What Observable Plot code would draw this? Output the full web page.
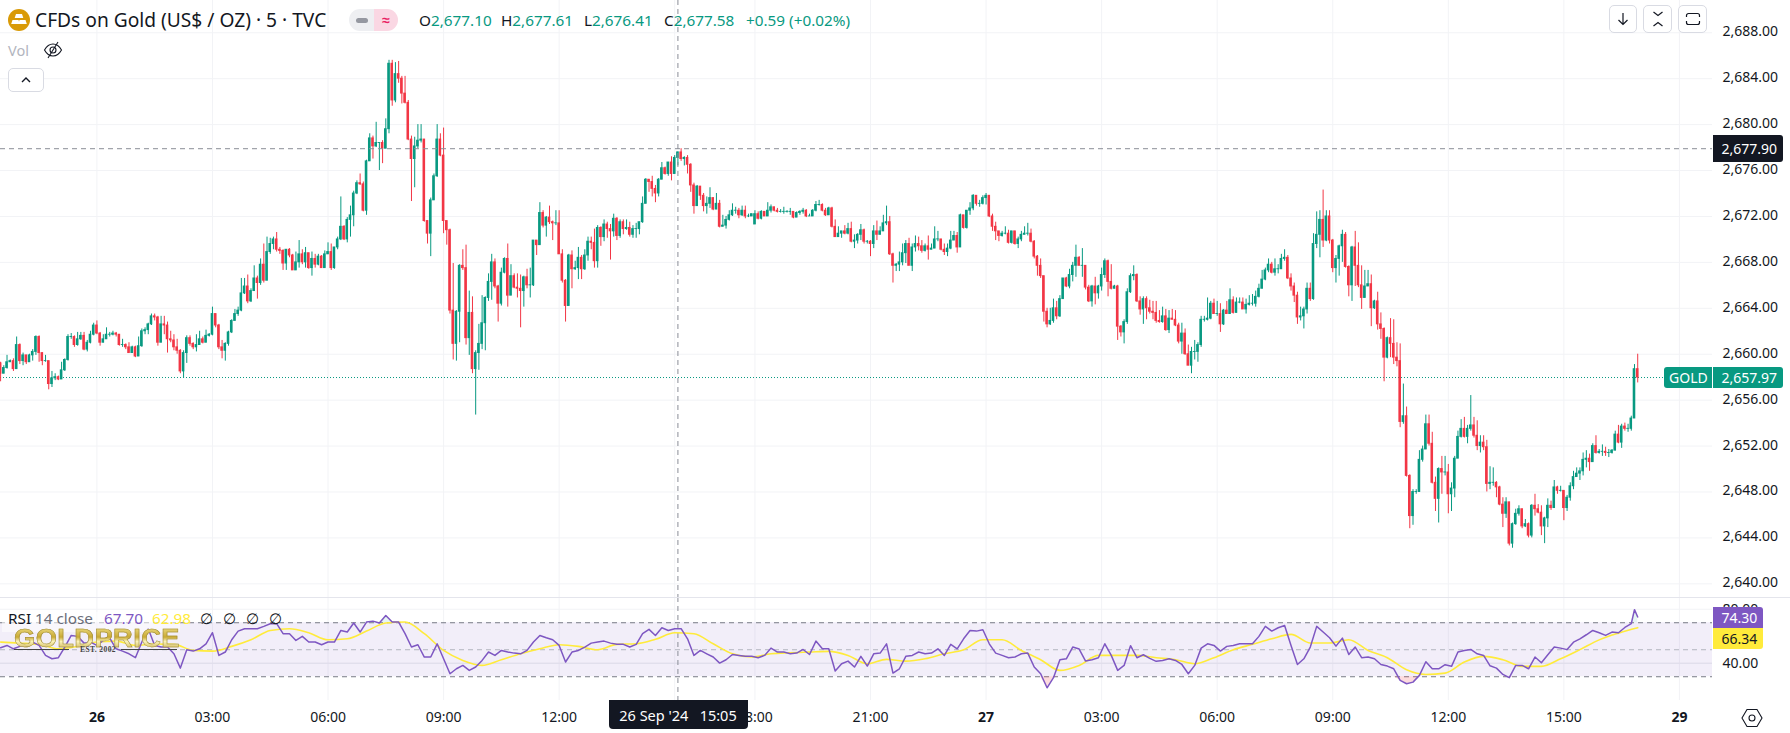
<!DOCTYPE html>
<html><head><meta charset="utf-8">
<script src="https://cdn.jsdelivr.net/npm/d3@7"></script>
<script src="https://cdn.jsdelivr.net/npm/@observablehq/plot@0.6"></script>
<style>
html,body{margin:0;padding:0;background:#fff;width:1790px;height:733px;overflow:hidden}
#root{position:relative;width:1790px;height:733px;font-family:"Noto Sans",sans-serif;color:#131722}
#root svg{display:block}
.ov{position:absolute;white-space:nowrap;line-height:1}
.tag{position:absolute;display:flex;align-items:center;box-sizing:border-box;font-size:14px;white-space:nowrap}
.btn{position:absolute;box-sizing:border-box;border:1px solid #d9dbe3;border-radius:5px;background:#fff;display:flex;align-items:center;justify-content:center}
</style></head><body><div id="root"></div>
<script>
// 5-minute bars, counted from 26 Sep 00:00 (first bar shown is -30)
const firstBar = -30;
const closes = [
2658.3,2658.8,2659.3,2659.4,2658.7,2660.8,2659.4,2659.9,2659.3,2659.9,2660.2,2661.5,2660.1,2659.4,2659.4,2657.4,2657.9,2658.0,2657.8,2658.6,
2659.5,2661.5,2661.5,2660.8,2661.3,2661.6,2660.4,2661.0,2661.7,2662.5,2661.8,2661.0,2661.3,2661.7,2661.7,2661.8,2661.7,2660.8,2660.8,2660.6,
2660.1,2660.6,2659.8,2660.7,2662.0,2662.1,2662.6,2663.3,2663.2,2661.0,2662.6,2662.5,2661.3,2661.2,2660.6,2660.3,2658.5,2660.1,2661.4,2660.9,
2660.6,2660.8,2661.3,2661.0,2661.6,2661.7,2663.5,2662.5,2660.6,2660.3,2660.9,2661.9,2662.9,2663.5,2663.8,2665.3,2665.9,2664.6,2665.5,2666.6,
2666.2,2667.8,2666.4,2668.9,2669.6,2670.0,2669.1,2669.0,2667.9,2669.1,2668.6,2667.3,2668.0,2668.7,2668.0,2668.8,2667.5,2668.3,2667.8,2668.5,
2667.5,2668.7,2668.9,2667.5,2669.3,2670.0,2671.1,2670.0,2671.7,2672.1,2674.0,2674.9,2674.8,2672.5,2676.8,2678.8,2678.1,2678.4,2678.4,2677.9,
2679.6,2685.3,2682.1,2684.4,2684.0,2682.7,2681.9,2678.7,2677.0,2678.1,2678.6,2678.7,2671.6,2670.5,2673.4,2675.5,2678.7,2677.3,2671.6,2670.8,
2663.8,2660.9,2663.7,2667.7,2667.5,2661.4,2663.6,2658.7,2660.1,2660.9,2662.7,2664.9,2666.3,2668.0,2665.9,2664.4,2667.1,2668.3,2665.1,2666.8,
2665.8,2665.7,2665.5,2666.7,2666.0,2666.0,2669.9,2669.5,2672.3,2671.2,2671.9,2671.5,2671.4,2671.4,2668.7,2666.4,2664.2,2668.6,2667.4,2667.5,
2668.4,2667.4,2668.6,2669.8,2669.7,2668.1,2671.0,
2670.2,2671.3,2670.9,2670.7,2671.8,2670.3,2671.5,2670.9,2671.0,2670.4,2670.9,2670.9,2671.5,2673.1,2675.2,2675.0,2674.4,2674.0,2675.2,2676.2,
2675.7,2676.7,2675.7,2677.1,2677.58,2677.0,2677.1,2676.5,2674.7,2672.9,2674.6,2673.8,2672.9,2673.1,2673.6,2672.6,2673.1,2671.1,2671.2,2671.7,
2672.1,2672.5,2672.5,2672.1,2672.5,2672.0,2672.0,2672.2,2672.2,2671.8,2672.4,2672.0,2672.5,2672.8,2672.5,2672.4,2672.4,2672.4,2672.4,2672.4,
2671.9,2672.3,2672.4,2672.5,2672.0,2672.0,2672.5,2673.0,2673.0,2672.5,2672.1,2672.7,2671.1,2670.2,2670.5,2670.7,2670.5,2670.9,2669.8,2669.9,
2670.4,2670.8,2669.8,2669.8,2669.6,2670.7,2670.4,2670.7,2671.4,2671.5,2668.7,2667.7,2667.8,2668.0,2668.8,2669.6,2667.7,2669.3,2669.6,2669.4,
2669.0,2669.4,2669.1,2669.2,2670.0,2670.0,2669.1,2668.9,2669.2,2669.9,2670.3,2669.3,2672.1,2671.0,2672.5,2672.7,2673.8,2673.1,2673.1,2673.6,
2673.8,2672.0,2671.1,2670.7,2670.3,2670.5,2670.5,2669.7,2670.7,2669.6,2670.0,2670.4,2670.5,2670.5,2669.8,2668.5,2667.7,2666.8,2663.7,2662.6,
2662.9,2664.0,2663.3,2664.8,2666.6,2665.9,2666.9,2667.7,2668.4,2667.7,2667.7,2665.8,2664.6,2665.9,2665.3,2665.9,2666.9,2668.1,2666.3,2665.7,
2665.9,2662.4,2661.9,2662.8,2665.4,2666.8,2666.9,2664.6,2663.9,2664.8,2664.0,2663.7,2663.6,2662.9,2662.8,2663.3,2662.1,2663.1,2663.0,2662.5,
2661.1,2661.8,2660.0,2659.0,2660.2,2660.2,2660.8,
2663.0,2663.0,2663.1,2664.4,2663.5,2663.5,2662.6,2663.8,2663.5,2664.7,2663.6,2664.5,2664.5,2663.9,2664.3,2664.4,2664.4,2665.0,2665.7,2666.5,
2667.3,2667.8,2667.1,2667.4,2667.4,2668.3,2668.4,2666.6,2665.9,2665.1,2663.2,2663.3,2663.9,2665.7,2664.8,2669.6,2670.4,2671.7,2669.9,2672.0,
2669.9,2667.5,2668.3,2669.4,2670.4,2667.6,2666.0,2669.3,2667.7,2666.0,2664.9,2665.9,2666.1,2664.0,2664.6,2662.6,2662.2,2659.7,2661.4,2660.9,
2659.7,2659.4,2654.1,2654.6,2649.4,2645.9,2648.0,2648.0,2650.8,2651.7,2653.9,2652.2,2648.8,2647.4,2650.0,2649.7,2649.7,2647.8,2648.3,2650.9,
2652.8,2653.5,2652.8,2653.5,2653.8,2652.9,2652.0,2652.3,2651.9,2648.7,2648.8,2648.8,2648.4,2646.9,2646.1,2647.1,2643.5,2645.2,2646.1,2646.5,
2645.0,2645.2,2644.2,2646.8,2646.5,2646.2,2645.0,2645.7,2646.8,2646.6,2648.4,2648.1,2648.1,2646.6,2647.5,2648.5,2649.3,2649.6,2649.8,2650.8,
2650.9,2650.6,2652.0,2651.4,2651.5,2651.5,2651.4,2651.4,2651.6,2653.0,2652.3,2653.7,2653.5,2653.5,2654.4,2658.7,2657.97];
const highs = [
2659.3,2659.0,2659.9,2659.5,2659.6,2661.5,2660.9,2660.1,2659.7,2660.0,2660.4,2661.6,2661.6,2660.0,2659.9,2659.4,2658.5,2658.3,2658.1,2659.3,
2659.6,2661.7,2661.8,2661.6,2661.9,2661.9,2661.9,2661.2,2662.0,2662.7,2662.9,2661.9,2661.7,2662.3,2661.9,2662.0,2661.9,2661.7,2661.3,2660.9,
2661.0,2660.7,2660.7,2661.5,2662.2,2662.3,2662.7,2663.5,2663.5,2663.3,2663.3,2663.3,2662.8,2662.0,2661.7,2661.3,2660.4,2660.3,2661.6,2661.6,
2661.0,2661.7,2662.0,2661.5,2662.1,2661.8,2664.1,2663.5,2662.6,2661.2,2661.0,2662.0,2663.0,2663.9,2664.1,2666.6,2666.6,2666.9,2665.7,2667.7,
2666.8,2668.3,2669.6,2670.2,2670.1,2670.2,2670.6,2669.3,2669.1,2669.1,2669.2,2668.7,2668.9,2669.9,2669.1,2669.3,2668.7,2668.9,2668.7,2668.7,
2668.6,2669.0,2669.7,2669.6,2669.3,2670.2,2673.7,2671.2,2671.9,2672.9,2674.2,2675.1,2675.7,2675.0,2676.9,2679.2,2679.0,2680.2,2678.4,2678.6,
2680.5,2685.6,2685.6,2685.4,2685.5,2684.2,2684.2,2682.1,2679.0,2678.9,2680.0,2680.0,2678.6,2671.6,2673.6,2675.7,2680.0,2679.2,2679.7,2671.5,
2670.9,2667.9,2663.8,2667.8,2669.1,2669.5,2665.5,2665.0,2660.3,2662.6,2665.1,2665.0,2667.0,2668.7,2668.3,2666.0,2667.5,2668.4,2669.6,2667.8,
2667.0,2667.0,2666.9,2666.8,2667.4,2667.5,2669.9,2669.9,2673.2,2672.5,2672.0,2672.9,2671.6,2672.5,2672.5,2669.1,2666.5,2668.7,2669.0,2668.1,
2669.3,2668.6,2669.1,2670.2,2670.2,2670.9,2671.2,
2671.1,2671.7,2671.5,2671.3,2672.2,2671.9,2671.7,2671.7,2671.7,2671.5,2671.2,2671.4,2671.5,2673.7,2675.3,2675.2,2675.5,2674.7,2675.3,2676.7,
2676.3,2676.7,2677.2,2677.3,2677.61,2677.9,2677.2,2677.3,2676.6,2674.9,2674.7,2674.5,2674.0,2673.7,2674.5,2673.6,2674.0,2673.4,2672.1,2672.0,
2672.5,2673.1,2672.8,2672.7,2672.9,2672.9,2672.2,2672.2,2672.5,2672.4,2672.5,2672.3,2673.2,2673.0,2672.8,2672.7,2672.6,2672.8,2672.5,2672.7,
2672.4,2672.4,2672.5,2672.7,2672.6,2672.2,2672.6,2673.3,2673.4,2673.1,2672.7,2672.8,2672.8,2671.7,2671.1,2670.7,2671.2,2671.4,2671.5,2670.4,
2670.5,2671.3,2670.9,2669.9,2669.9,2671.2,2671.6,2671.1,2672.1,2672.9,2672.0,2668.8,2667.9,2668.9,2669.6,2669.9,2670.1,2669.6,2670.3,2670.2,
2669.9,2669.6,2670.3,2669.6,2671.1,2670.7,2670.0,2669.6,2669.6,2670.7,2670.7,2670.6,2672.2,2672.1,2672.5,2673.2,2673.9,2673.8,2673.4,2673.8,
2674.0,2673.6,2672.2,2671.5,2670.7,2670.7,2671.1,2670.8,2670.7,2670.7,2670.2,2670.7,2671.1,2671.4,2670.9,2669.9,2668.6,2668.3,2666.7,2664.0,
2664.0,2664.8,2664.6,2665.1,2666.6,2666.7,2667.4,2668.0,2669.5,2668.5,2669.2,2667.6,2666.0,2666.0,2666.7,2666.0,2667.5,2668.3,2668.2,2667.8,
2666.0,2666.0,2662.5,2663.0,2665.7,2667.0,2667.7,2667.0,2665.0,2665.0,2665.0,2664.7,2664.6,2664.6,2663.8,2664.1,2663.9,2663.8,2663.9,2663.8,
2662.7,2662.7,2662.2,2660.8,2660.6,2661.2,2661.0,
2663.3,2663.3,2664.9,2664.6,2664.8,2664.6,2664.4,2663.9,2664.6,2665.7,2665.0,2664.9,2664.9,2664.9,2664.8,2665.1,2665.2,2665.5,2666.1,2667.3,
2667.5,2668.3,2668.0,2668.3,2667.8,2668.7,2669.1,2668.6,2667.0,2666.2,2665.4,2664.1,2664.1,2666.2,2666.2,2670.5,2672.4,2672.5,2674.3,2672.5,
2672.5,2670.0,2668.6,2669.5,2670.8,2670.6,2667.7,2669.4,2670.7,2669.7,2667.7,2667.3,2667.3,2666.9,2664.7,2665.4,2663.6,2662.3,2661.5,2663.1,
2663.0,2661.0,2660.9,2657.4,2655.4,2649.5,2648.2,2648.2,2651.6,2652.0,2654.7,2654.7,2653.2,2649.3,2650.1,2651.1,2651.1,2650.4,2648.8,2651.1,
2653.3,2654.3,2654.5,2653.8,2656.4,2654.5,2654.2,2652.9,2652.9,2652.5,2650.2,2650.1,2648.9,2648.5,2647.5,2647.5,2647.1,2645.3,2646.5,2646.8,
2646.5,2645.6,2645.3,2646.9,2647.8,2646.9,2646.8,2645.8,2647.4,2647.2,2649.0,2648.5,2648.5,2648.1,2647.7,2648.8,2649.8,2650.1,2650.1,2651.4,
2651.6,2651.3,2652.2,2652.9,2651.7,2652.1,2651.9,2651.7,2651.7,2653.3,2653.8,2653.9,2654.0,2653.9,2654.6,2659.1,2660.0];
const lows = [
2657.6,2658.5,2658.7,2659.3,2658.5,2658.7,2659.1,2659.0,2659.1,2659.3,2659.4,2659.9,2659.3,2659.0,2659.3,2656.9,2657.1,2657.7,2657.7,2657.8,
2658.5,2659.4,2661.3,2660.6,2660.7,2661.2,2660.3,2660.2,2660.9,2661.6,2661.7,2660.7,2661.0,2661.3,2661.5,2661.6,2661.5,2660.7,2660.6,2660.4,
2660.1,2660.1,2659.7,2659.9,2660.6,2661.7,2661.7,2662.5,2662.9,2660.7,2661.0,2661.7,2660.1,2661.0,2660.3,2660.0,2658.3,2657.9,2659.2,2660.7,
2660.4,2660.2,2661.0,2660.9,2661.0,2661.5,2661.6,2662.3,2660.4,2659.6,2659.4,2660.7,2661.8,2663.0,2663.3,2663.7,2665.2,2664.4,2664.5,2665.5,
2664.8,2666.0,2666.2,2666.4,2668.7,2669.1,2668.9,2668.7,2667.3,2667.3,2668.4,2667.3,2667.3,2667.5,2667.8,2667.5,2667.4,2666.8,2667.5,2667.7,
2667.5,2667.5,2668.7,2667.3,2667.4,2669.1,2669.9,2669.9,2669.7,2670.2,2671.1,2673.9,2674.7,2672.4,2672.1,2676.8,2677.0,2678.0,2676.0,2676.6,
2677.9,2679.2,2681.6,2681.9,2683.6,2681.8,2681.8,2678.6,2673.3,2674.5,2677.9,2678.4,2671.5,2669.6,2668.5,2673.4,2675.4,2677.2,2670.5,2669.5,
2663.5,2659.5,2659.4,2661.0,2667.3,2660.8,2659.9,2658.3,2654.7,2658.6,2660.4,2660.3,2664.6,2664.7,2665.7,2662.8,2664.2,2667.0,2664.1,2665.1,
2665.7,2664.9,2662.3,2664.1,2665.7,2664.9,2665.9,2668.6,2669.5,2671.0,2670.2,2671.3,2669.9,2671.2,2668.7,2666.2,2662.8,2664.2,2665.7,2667.3,
2666.5,2666.5,2667.3,2668.1,2669.1,2667.5,2667.5,
2669.4,2669.8,2670.1,2668.2,2670.2,2669.9,2670.1,2670.4,2670.8,2670.2,2670.1,2670.1,2670.4,2671.4,2673.1,2674.1,2673.7,2673.2,2673.7,2675.2,
2675.6,2675.5,2675.1,2675.7,2676.41,2676.8,2676.4,2675.7,2674.1,2672.2,2672.9,2673.4,2672.4,2672.2,2672.7,2672.5,2672.6,2671.0,2671.1,2670.9,
2671.6,2672.0,2672.2,2671.8,2672.0,2671.8,2671.9,2672.1,2671.3,2671.7,2671.7,2672.0,2672.0,2672.3,2672.4,2672.3,2672.3,2672.2,2672.3,2672.1,
2671.8,2671.9,2672.1,2672.2,2671.9,2672.0,2672.1,2672.4,2672.9,2672.4,2672.0,2672.1,2671.0,2670.2,2670.4,2670.1,2670.4,2670.4,2669.7,2669.2,
2669.6,2669.9,2669.6,2669.6,2668.5,2669.2,2669.9,2670.4,2670.7,2671.2,2668.6,2666.2,2667.2,2667.2,2667.7,2667.9,2667.7,2667.2,2668.9,2669.0,
2668.8,2668.9,2668.2,2669.1,2669.2,2669.8,2669.0,2668.6,2668.5,2669.1,2669.9,2668.8,2669.5,2670.9,2670.9,2672.1,2672.5,2672.9,2672.8,2673.0,
2673.0,2671.9,2670.7,2669.9,2669.8,2670.2,2670.4,2669.6,2669.6,2669.5,2669.2,2669.8,2670.4,2670.3,2669.7,2668.3,2666.8,2666.6,2662.8,2662.3,
2662.5,2662.7,2663.0,2663.2,2664.8,2665.8,2665.7,2666.3,2666.7,2667.7,2666.7,2665.6,2664.5,2664.1,2664.3,2664.8,2665.5,2666.6,2665.0,2665.6,
2665.7,2661.2,2661.5,2660.9,2662.6,2665.3,2666.4,2664.5,2663.4,2662.6,2663.0,2663.5,2663.0,2662.7,2662.7,2662.7,2662.0,2661.8,2663.0,2662.4,
2660.9,2660.0,2659.9,2659.0,2658.3,2659.5,2659.3,
2660.6,2662.8,2662.9,2663.0,2663.5,2663.3,2661.9,2662.5,2663.5,2663.5,2663.5,2663.7,2664.4,2663.9,2663.5,2664.2,2664.2,2664.1,2664.9,2665.7,
2666.4,2667.1,2667.0,2666.8,2667.0,2667.5,2668.1,2666.5,2665.5,2664.5,2662.6,2662.9,2662.2,2663.5,2664.6,2664.7,2669.2,2668.4,2669.3,2669.8,
2669.6,2667.1,2666.2,2666.8,2668.0,2667.5,2665.0,2664.6,2665.9,2665.8,2663.9,2665.0,2665.9,2662.4,2663.9,2662.1,2661.3,2657.6,2659.6,2659.7,
2659.1,2658.9,2653.6,2653.9,2649.3,2644.8,2645.1,2647.8,2648.1,2650.6,2651.7,2652.0,2648.7,2646.3,2645.3,2647.8,2649.4,2646.1,2646.3,2647.5,
2650.9,2652.7,2652.7,2652.2,2653.3,2652.7,2651.6,2651.4,2651.6,2648.0,2648.2,2648.5,2647.5,2646.8,2644.9,2645.7,2643.3,2643.1,2645.1,2645.9,
2644.8,2644.9,2644.0,2644.0,2645.9,2646.1,2644.2,2643.5,2644.9,2646.4,2646.6,2647.8,2648.0,2645.5,2646.3,2647.2,2648.2,2649.3,2649.0,2649.4,
2650.1,2649.8,2650.6,2651.3,2651.3,2651.1,2651.1,2651.0,2651.3,2651.6,2652.2,2651.8,2653.3,2653.2,2653.3,2654.5,2657.5];
const openOverrides = [[-30,2659.2],[181,2677.10],[205,2671.3]];

// RSI(14): one reading every second bar, from bar -30 to bar 478, then the last two bars
const rsi = [
51.5,53.2,50.7,52.5,52.5,55.7,53.2,45.8,43.3,44.1,52.0,60.6,59.9,54.9,55.7,53.2,56.9,58.6,50.7,49.0,47.0,44.1,55.7,65.6,53.2,52.0,52.0,47.0,36.4,50.0,
49.0,50.7,54.4,62.6,45.8,48.3,57.4,63.8,65.6,65.6,65.6,67.3,69.3,69.3,61.9,61.9,56.9,59.9,55.7,55.7,53.7,55.7,55.7,64.3,63.1,69.8,63.1,70.5,71.2,69.8,
75.4,70.5,70.5,61.9,52.0,53.7,44.6,44.6,54.4,43.3,32.2,35.9,38.4,34.7,37.2,42.1,48.3,45.8,49.5,48.3,47.5,47.0,
49.5,55.7,60.6,58.9,57.4,53.2,40.9,48.3,49.5,52.0,54.9,55.7,56.4,54.9,54.0,54.0,52.0,54.0,61.9,65.1,60.6,66.3,64.3,65.6,65.6,58.1,45.8,49.5,47.0,44.6,
40.1,42.6,46.5,45.8,45.1,45.1,44.1,45.8,51.2,48.3,48.3,47.0,47.5,50.2,46.5,56.4,50.7,50.7,34.2,39.6,41.6,37.2,45.1,37.9,47.0,47.5,54.4,32.7,35.9,45.1,
45.8,48.3,47.0,47.5,50.7,45.8,54.0,50.7,58.1,64.3,63.8,64.8,54.4,47.5,45.8,44.1,44.6,47.0,47.5,37.2,32.2,
21.8,29.3,42.6,43.3,52.0,50.5,41.6,42.6,44.1,54.4,45.8,34.7,38.4,53.0,44.1,46.3,43.6,41.4,42.1,43.3,42.1,39.1,32.2,38.4,51.2,54.4,53.2,49.0,52.5,53.2,
54.4,54.4,54.4,59.9,67.3,63.8,66.3,68.0,53.2,39.1,43.3,52.0,67.3,63.1,58.9,52.7,58.6,46.5,52.0,44.1,44.6,43.3,39.1,37.9,35.9,27.3,24.8,26.0,31.0,41.1,
35.9,35.9,38.9,37.7,48.3,49.5,50.2,47.0,45.8,38.1,36.4,31.7,29.3,38.4,38.4,35.9,44.6,40.4,46.3,52.0,51.2,
50.1,55.6,58.1,61.1,64.3,62.6,60.6,63.1,62.6,66.5,69.3];
const rsiEndBars = [479,480];
const rsiEndValues = [79.7,74.30];
// Smoothed RSI: one reading every sixth bar, from bar -30 to bar 480
const rsiMA = [
55.7,54.9,54.0,50.7,52.5,55.7,56.4,53.2,54.2,54.0,49.5,49.0,52.5,57.4,64.3,65.6,62.6,57.4,58.1,63.8,69.8,70.5,61.9,49.5,42.1,38.4,42.6,47.0,
50.7,53.7,52.5,50.0,54.0,54.4,57.7,62.6,61.9,54.4,47.0,44.6,47.0,47.8,48.3,48.8,45.8,39.6,42.9,41.6,43.3,47.0,50.0,57.4,57.4,49.5,42.6,
34.7,38.4,45.8,45.8,45.8,44.1,42.6,39.6,44.1,50.0,54.0,58.1,61.4,55.0,55.0,57.4,49.5,44.1,35.2,31.7,32.7,40.9,45.1,42.6,37.7,37.7,43.3,
50.1,57.3,62.3,66.34];

const timeBars = [0,36,72,108,144,180,205,241,277,313,349,385,421,457,493];
const timeLabels = ["26","03:00","06:00","09:00","12:00","15:00","18:00","21:00","27","03:00","06:00","09:00","12:00","15:00","29"];
const dayLabels = ["26","27","29"];
const priceTicks = d3.range(2640,2689,4);
const rsiTicks = [40,80];
const crossBar = 181;
const crossPrice = 2677.90;
const lastPrice = 2657.97;
const rsiLast = 74.30, maLast = 66.34;

const UP="#089981", DOWN="#f23645", GRID="#f2f3f6", FONT='"Noto Sans",sans-serif';
const opens = closes.map((c,i)=> i? closes[i-1] : c);
openOverrides.forEach(([b,v])=>{opens[b-firstBar]=v;});
const bars = closes.map((c,i)=>{
  const o=opens[i];
  return {b:firstBar+i,o,c,h:Math.max(highs[i],o,c),l:Math.min(lows[i],o,c),up:c>=o};
});
const rsiPts = rsi.map((v,i)=>({b:firstBar+2*i,v})).concat(rsiEndBars.map((b,i)=>({b,v:rsiEndValues[i]})));
const maPts = rsiMA.map((v,i)=>({b:firstBar+6*i,v}));
const xDomain=[-30.03,503.3], PANE_W=1712;
const fmt=d3.format(",.2f");
const bodyW=0.4, pad=0.04;
const up=bars.filter(d=>d.up), down=bars.filter(d=>!d.up);
const body=(data,fill)=>Plot.rect(data,{x1:d=>d.b-bodyW,x2:d=>d.b+bodyW,y1:d=>Math.min(d.o,d.c)-pad,y2:d=>Math.max(d.o,d.c)+pad,fill});
const wick=(data,stroke)=>Plot.ruleX(data,{x:"b",y1:"l",y2:"h",stroke,strokeWidth:1});
const dash={stroke:"#8a8d96",strokeWidth:1,strokeDasharray:"5 4"};

const top_=Plot.plot({
  width:1790,height:597,marginLeft:0,marginRight:1790-PANE_W,marginTop:0,marginBottom:0,
  style:{fontFamily:FONT,fontSize:"14px",color:"#131722",background:"transparent"},
  x:{domain:xDomain,range:[0,PANE_W],axis:null},
  y:{domain:[2638.81,2690.81],range:[597,0],axis:null},
  marks:[
    Plot.ruleX(timeBars,{stroke:GRID,strokeWidth:1}),
    Plot.ruleY(priceTicks,{stroke:GRID,strokeWidth:1}),
    Plot.axisY({ticks:priceTicks,anchor:"right",tickSize:0,tickPadding:10,tickFormat:fmt,label:null,fill:"#131722",fontSize:14,dy:-1}),
    Plot.ruleY([lastPrice],{stroke:UP,strokeWidth:1,strokeDasharray:"1 2"}),
    wick(up,UP),wick(down,DOWN),body(up,UP),body(down,DOWN),
    Plot.ruleY([crossPrice],dash),
    Plot.ruleX([crossBar],dash)
  ]
});
const RSI_H=103;
const bot=Plot.plot({
  width:1790,height:136,marginLeft:0,marginRight:1790-PANE_W,marginTop:0,marginBottom:136-RSI_H,
  style:{fontFamily:FONT,fontSize:"14px",color:"#131722",background:"transparent"},
  x:{domain:xDomain,range:[0,PANE_W],axis:null},
  y:{domain:[12.4,88.7],range:[RSI_H,0],axis:null},
  marks:[
    Plot.ruleX(timeBars,{stroke:GRID,strokeWidth:1}),
    Plot.ruleY(rsiTicks,{stroke:GRID,strokeWidth:1}),
    Plot.rectY([0],{x1:xDomain[0],x2:xDomain[1],y1:30,y2:70,fill:"#7e57c2",fillOpacity:0.1}),
    Plot.ruleY([40],{stroke:"#dfdce9",strokeWidth:1}),
    Plot.ruleY([70],{stroke:"#787b86",strokeWidth:1,strokeDasharray:"5 4"}),
    Plot.ruleY([30],{stroke:"#787b86",strokeWidth:1,strokeDasharray:"5 4"}),
    Plot.ruleY([50],{stroke:"#b2b5be",strokeWidth:1,strokeDasharray:"5 4"}),
    Plot.areaY(rsiPts,{x:"b",y1:()=>30,y2:d=>Math.min(d.v,30),fill:"#f23645",fillOpacity:0.18}),
    Plot.areaY(rsiPts,{x:"b",y1:()=>70,y2:d=>Math.max(d.v,70),fill:"#089981",fillOpacity:0.1}),
    Plot.ruleX([crossBar],{...dash,y1:88.7,y2:12.4}),
    Plot.line(maPts,{x:"b",y:"v",stroke:"#ffeb3b",strokeWidth:1.6,curve:"monotone-x"}),
    Plot.line(rsiPts,{x:"b",y:"v",stroke:"#7e57c2",strokeWidth:1.5}),
    Plot.axisY({ticks:rsiTicks,anchor:"right",tickSize:0,tickPadding:10,tickFormat:fmt,label:null,fill:"#131722",fontSize:14}),
    Plot.axisX({ticks:timeBars.filter((b,i)=>!dayLabels.includes(timeLabels[i])),anchor:"bottom",tickSize:0,tickPadding:12,label:null,fontSize:14,fill:"#131722",
      tickFormat:b=>timeLabels[timeBars.indexOf(b)]}),
    Plot.axisX({ticks:timeBars.filter((b,i)=>dayLabels.includes(timeLabels[i])),anchor:"bottom",tickSize:0,tickPadding:12,label:null,fontSize:14,fontWeight:"bold",fill:"#131722",
      tickFormat:b=>timeLabels[timeBars.indexOf(b)]})
  ]
});
const root=document.getElementById("root");
root.append(top_);
root.append(bot);
const sep=document.createElement("div");
sep.style.cssText="position:absolute;left:0;top:596.5px;width:1790px;height:1.5px;background:#e4e5ec";
root.append(sep);

function el(html){const t=document.createElement("template");t.innerHTML=html.trim();const n=t.content.firstChild;root.append(n);return n;}
function txt(s,x,y,opt={}){
  return el(`<div class="ov" style="left:${x}px;top:${y}px;font-size:${opt.size||14}px;color:${opt.color||"#131722"};${opt.css||""}">${s}</div>`);
}
// header
el(`<svg style="position:absolute;left:8px;top:9px" width="22" height="22" viewBox="0 0 22 22"><circle cx="11" cy="11" r="11" fill="#d99a07"/><path d="M8 5h6l1.3 4H6.700zM4.500 11h6l1.200 4H3.200zM11.500 11h6l1.300 4h-8.500z" fill="#fff"/></svg>`);
txt("CFDs on Gold (US$ / OZ) · 5 · TVC",35,10,{size:19.2});
el(`<div style="position:absolute;left:349px;top:9px;width:49px;height:22px;border-radius:11px;overflow:hidden;display:flex"><div style="width:25px;background:#eeeff2;display:flex;align-items:center;justify-content:center"><span style="display:block;width:12px;height:5px;border-radius:2.500px;background:#9598a1"></span></div><div style="width:24px;background:#fad7e3;color:#e91e63;font-size:14px;font-weight:bold;text-align:center;line-height:21px">≈</div></div>`);
[["O","2,677.10",419],["H","2,677.61",501],["L","2,676.41",584],["C","2,677.58",664]].forEach(([a,b,x])=>{
  txt(`${a}<span style="color:${UP}">${b}</span>`,x,13,{size:15.3});
});
txt("+0.59 (+0.02%)",746,13,{size:15.3,color:UP});
txt("Vol",8,43,{size:14.5,color:"#b2b5be"});
el(`<svg style="position:absolute;left:43px;top:41px" width="20" height="18" viewBox="0 0 20 18" fill="none" stroke="#131722" stroke-width="1.100"><path d="M1.500 9C4 4.500 7 3 10 3s6 1.500 8.500 6C16 13.500 13 15 10 15S4 13.500 1.500 9z"/><circle cx="10" cy="9" r="3"/><path d="M15 1L5 17"/></svg>`);
el(`<div class="btn" style="left:8px;top:68px;width:36px;height:24px"><svg width="12" height="8" viewBox="0 0 12 8" fill="none" stroke="#131722" stroke-width="1.400"><path d="M2 6l4-4 4 4"/></svg></div>`);
el(`<div class="btn" style="left:1609px;top:5px;width:28px;height:28px"><svg width="14" height="14" viewBox="0 0 14 14" fill="none" stroke="#131722" stroke-width="1.200"><path d="M7 1v11M2.500 8L7 12.500 11.500 8"/></svg></div>`);
el(`<div class="btn" style="left:1643px;top:5px;width:29px;height:28px"><svg width="14" height="18" viewBox="0 0 14 18" fill="none" stroke="#131722" stroke-width="1.200"><path d="M2.500 2L7 5.500 11.500 2M2.500 16L7 12.500 11.500 16"/></svg></div>`);
el(`<div class="btn" style="left:1678px;top:5px;width:29px;height:28px"><svg width="16" height="14" viewBox="0 0 16 14" fill="none" stroke="#131722" stroke-width="1.200"><path d="M1.500 5V3.500a2 2 0 0 1 2-2h9a2 2 0 0 1 2 2V5M1.500 9v1.500a2 2 0 0 0 2 2h9a2 2 0 0 0 2-2V9"/></svg></div>`);
// tags placed through the chart's own scales
const py=v=>top_.scale("y").apply(v);
function tag(s,left,width,yc,h,bg,fg,radius){
  return el(`<div class="tag" style="left:${left}px;width:${width}px;top:${yc-h/2}px;height:${h}px;background:${bg};color:${fg};border-radius:${radius};padding-left:${left===1712.5?9:0}px">${s}</div>`);
}
tag(fmt(crossPrice),1712.5,70.5,py(crossPrice),27,"#131722","#fff","0 3px 3px 0");
el(`<div class="tag" style="left:1664px;width:48px;top:${py(lastPrice)-10.5}px;height:21px;background:${UP};color:#fff;border-radius:3px 0 0 3px;padding-left:5px">GOLD</div>`);
el(`<div style="position:absolute;left:1712px;width:1px;top:${py(lastPrice)-10.5}px;height:21px;background:#fff"></div>`);
tag(fmt(lastPrice),1712.5,70,py(lastPrice),21,UP,"#fff","0 3px 3px 0");
tag(rsiLast.toFixed(2),1712.5,50.5,617.3,20.5,"#7e57c2","#fff","0 3px 0 0");
tag(maLast.toFixed(2),1712.5,50.5,638,21,"#ffeb3b","#131722","0 0 3px 0");
// crosshair time label
el(`<div style="position:absolute;left:608.5px;top:700px;width:139px;height:29px;background:#131722;color:#fff;border-radius:0 0 4px 4px;font-size:14.5px;display:flex;align-items:center;justify-content:center;white-space:pre">26 Sep '24   15:05</div>`);
el(`<svg style="position:absolute;left:1741px;top:708px" width="22" height="20" viewBox="0 0 22 20" fill="none" stroke="#131722" stroke-width="1.100"><path d="M6 1.500h10L21 10l-5 8.500H6L1 10z"/><circle cx="11" cy="10" r="3"/></svg>`);
// RSI legend and watermark
el(`<div style="position:absolute;left:2px;top:612px;width:178px;height:20px;background:rgba(255,255,255,.55)"></div>`);
txt("RSI",8,611,{size:15.3});
txt("14 close",35,611,{size:15.3,color:"#6a6d78"});
txt("67.70",104,611,{size:15.3,color:"#7e57c2"});
txt("62.98",152,611,{size:15.3,color:"#ffeb3b"});
[200,223,246,269].forEach(x=>txt("∅",x,611,{size:15.3}));
el(`<div class="ov" style="left:14px;top:623.500px;width:170px;font:bold 25px 'Liberation Sans',sans-serif;letter-spacing:.4px;transform-origin:0 50%;transform:scaleX(1.09);background:linear-gradient(#f8ec9a,#c9a933 45%,#fbf3b8 60%,#b8942a);-webkit-background-clip:text;background-clip:text;color:transparent;-webkit-text-stroke:.5px #9a8838">GOLDPRICE</div>`);
el(`<div style="position:absolute;left:14px;top:649px;width:55px;height:1px;background:#444"></div>`);
el(`<div style="position:absolute;left:121px;top:649px;width:56px;height:1px;background:#444"></div>`);
el(`<div class="ov" style="left:80px;top:645px;font:bold 7.500px 'Liberation Serif',serif;color:#444;letter-spacing:.4px">EST. 2002</div>`);
</script>
</body></html>
